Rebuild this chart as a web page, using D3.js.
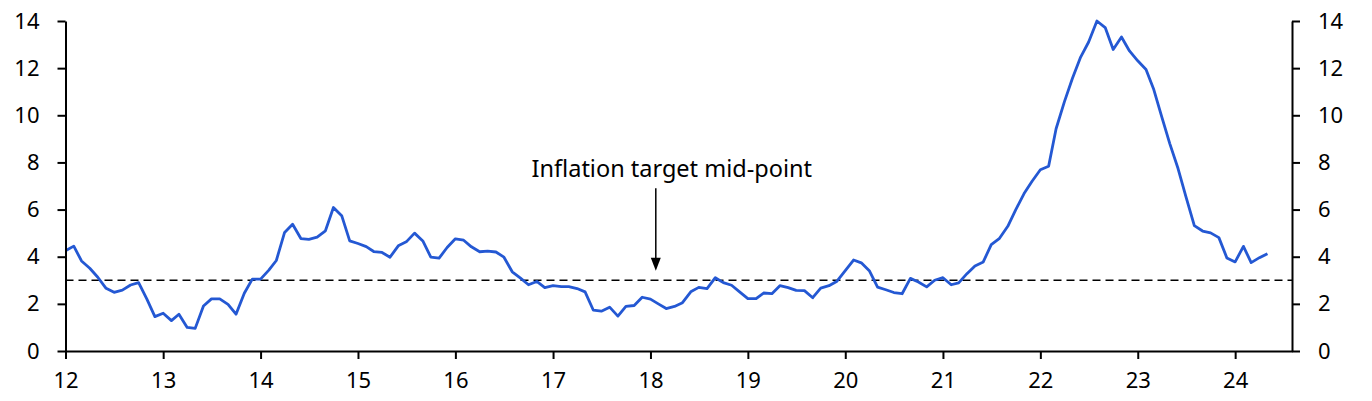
<!DOCTYPE html>
<meta charset="utf-8">

<script src="https://d3js.org/d3.v7.min.js"></script>

<style type="text/css">
  body {
    margin: 0;
    background: #fff;
  }

  svg text {
    font-family: "Noto Sans", sans-serif;
    font-size: 22px;
    fill: #000;
  }

  .axis path,
  .axis line {
    stroke: #000;
    stroke-width: 2px;
  }

  .cpiLine {
    fill: none;
    stroke: #2458d3;
    stroke-width: 2.8px;
    stroke-linejoin: round;
  }

  .targetLine {
    stroke: #000;
    stroke-width: 1.6px;
    stroke-dasharray: 8 5;
  }
</style>

<body>
</body>

<script>

  // monthly inflation, % y/y, Jan 2012 onwards
  let startMonth = new Date(2012, 0, 1);
  let endMonth = new Date(2024, 7, 1);

  let values = [
    4.25, 4.45, 3.82, 3.51, 3.13, 2.66, 2.49, 2.58, 2.80, 2.90, 2.20, 1.46,   // 2012
    1.60, 1.29, 1.56, 1.00, 0.96, 1.91, 2.21, 2.21, 1.98, 1.56, 2.45, 3.05,   // 2013
    3.05, 3.43, 3.84, 5.03, 5.38, 4.77, 4.74, 4.83, 5.10, 6.09, 5.74, 4.67,   // 2014
    4.56, 4.43, 4.22, 4.18, 3.98, 4.46, 4.63, 5.00, 4.67, 3.98, 3.94, 4.39,   // 2015
    4.76, 4.70, 4.42, 4.21, 4.24, 4.20, 3.98, 3.36, 3.09, 2.81, 2.95, 2.69,   // 2016
    2.77, 2.73, 2.73, 2.65, 2.51, 1.73, 1.69, 1.86, 1.48, 1.89, 1.93, 2.28,   // 2017
    2.20, 1.99, 1.80, 1.89, 2.05, 2.51, 2.70, 2.65, 3.11, 2.90, 2.79, 2.51,   // 2018
    2.22, 2.22, 2.46, 2.43, 2.77, 2.69, 2.57, 2.56, 2.26, 2.67, 2.77, 2.96,   // 2019
    3.41, 3.86, 3.74, 3.39, 2.71, 2.60, 2.48, 2.43, 3.08, 2.93, 2.72, 3.00,   // 2020
    3.11, 2.81, 2.89, 3.28, 3.61, 3.78, 4.51, 4.78, 5.29, 6.00, 6.68, 7.20,   // 2021
    7.69, 7.84, 9.43, 10.57, 11.56, 12.47, 13.11, 14.00, 13.72, 12.79, 13.32, 12.73, // 2022
    12.31, 11.94, 11.13, 9.93, 8.80, 7.74, 6.53, 5.32, 5.09, 5.01, 4.81, 3.95, // 2023
    3.78, 4.44, 3.75, 3.96, 4.13                                              // 2024
  ];

  let yTicks = [0, 2, 4, 6, 8, 10, 12, 14];
  let xTickYears = [2012, 2013, 2014, 2015, 2016, 2017, 2018, 2019, 2020, 2021, 2022, 2023, 2024];

  let target = 3;
  let annotationText = "Inflation target mid-point";
  let annotationDate = new Date(2018, 0, 21);

  let data = values.map((v, i) => ({
    date: d3.timeMonth.offset(startMonth, i),
    value: v
  }));

  let margin = { top: 21, right: 80, bottom: 50, left: 65.5 };

  let width = 1372 - margin.left - margin.right,
    height = 401 - margin.top - margin.bottom;

  let svg = d3.select("body").append("svg")
    .attr("width", 1372)
    .attr("height", 401)
    .append("g")
    .attr("transform", "translate(" + margin.left + "," + margin.top + ")");

  let xScale = d3.scaleTime()
    .domain([startMonth, endMonth])
    .range([0, width]);

  let yScale = d3.scaleLinear()
    .domain([0, 14])
    .range([height, 0]);

  let xAxis = d3.axisBottom(xScale)
    .tickValues(xTickYears.map(y => new Date(y, 0, 1)))
    .tickFormat(d3.timeFormat("%y"))
    .tickSize(8)
    .tickPadding(13)
    .tickSizeOuter(0);

  let yAxisLeft = d3.axisLeft(yScale)
    .tickValues(yTicks)
    .tickSize(8)
    .tickPadding(18)
    .tickSizeOuter(0);

  let yAxisRight = d3.axisRight(yScale)
    .tickValues(yTicks)
    .tickSize(8)
    .tickPadding(18)
    .tickSizeOuter(0);

  // dashed target line
  svg.append('line')
    .attr('class', 'targetLine')
    .attr('x1', 0)
    .attr('x2', width)
    .attr('y1', yScale(target))
    .attr('y2', yScale(target));

  svg.append('path')
    .datum(data)
    .attr('class', 'cpiLine')
    .attr('d', d3.line()
      .x(d => xScale(d.date))
      .y(d => yScale(d.value)));

  svg.append('g')
    .attr('class', 'x axis')
    .attr('transform', `translate(0, ${height})`)
    .call(xAxis);

  svg.append('g')
    .attr('class', 'y axis')
    .call(yAxisLeft);

  svg.append('g')
    .attr('class', 'y axis')
    .attr('transform', `translate(${width}, 0)`)
    .call(yAxisRight);

  svg.selectAll('.axis text').style('font-size', '22px').style('font-family', '"Noto Sans", sans-serif');

  // annotation arrow + label
  let arrowX = xScale(annotationDate);
  let arrowTip = yScale(3.4);

  svg.append('line')
    .attr('x1', arrowX)
    .attr('x2', arrowX)
    .attr('y1', yScale(6.9))
    .attr('y2', arrowTip - 10)
    .attr('stroke', '#000')
    .attr('stroke-width', 1.5);

  svg.append('path')
    .attr('d', `M${arrowX - 5},${arrowTip - 13} L${arrowX + 5},${arrowTip - 13} L${arrowX},${arrowTip} Z`)
    .attr('fill', '#000');

  svg.append('text')
    .attr('x', arrowX + 16)
    .attr('y', yScale(7.4))
    .attr('text-anchor', 'middle')
    .style('font-size', '23.5px')
    .text(annotationText);

</script>
